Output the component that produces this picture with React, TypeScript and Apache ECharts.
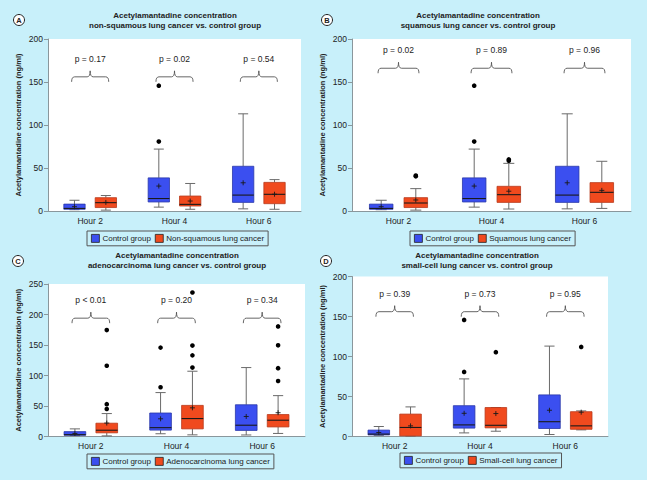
import { useEffect, useRef } from 'react';
import * as echarts from 'echarts';

// ---------- DATA ----------
const HOURS = ['Hour 2', 'Hour 4', 'Hour 6'];
const Y_NAME = 'Acetylamantadine concentration (ng/ml)';
const CONTROL_NAME = 'Control group';

// each row: [low whisker, Q1, median, Q3, high whisker, mean]
const CONTROL = [
  [1.5, 2, 3, 8, 12.5, 5],
  [4.5, 10.5, 14.5, 38.5, 72, 29],
  [2.5, 10, 18.5, 52, 113, 32.8],
];
const CONTROL_OUT = [[], [80.7, 145.7], []];

const NONSQ = [
  [1, 4, 9.7, 15.5, 18, 10],
  [2, 5.8, 7.7, 17.4, 32, 11.6],
  [2, 8.5, 19.4, 33.3, 36.5, 19.5],
];
const NONSQ_OUT = [[], [], []];

const SQ = [
  [1, 4, 9.3, 15.5, 26, 12.8],
  [2.3, 10, 19, 28.7, 55.4, 23],
  [3, 10, 21.7, 33, 57.8, 24],
];
const SQ_OUT = [[40.3, 41.3], [58.5, 60], []];

const ADENO = [
  [1, 6, 10.3, 21.8, 37.6, 22],
  [2.7, 12.5, 29.4, 51, 107, 47],
  [5, 15.7, 26.7, 36, 67, 39],
];
const ADENO_OUT = [[45, 53, 116, 174.5], [113, 133, 149, 236], [91, 112, 149.5, 180.5]];

const SMALL = [
  [0.5, 0.8, 11.3, 28, 37, 13.3],
  [6.6, 10.8, 14, 36.2, 36.2, 28.7],
  [8.3, 9, 13.3, 31, 32, 30.4],
];
const SMALL_OUT = [[], [105.4], [112]];

const P_A = ['p = 0.17', 'p = 0.02', 'p = 0.54'];
const P_B = ['p = 0.02', 'p = 0.89', 'p = 0.96'];
const P_C = ['p < 0.01', 'p = 0.20', 'p = 0.34'];
const P_D = ['p = 0.39', 'p = 0.73', 'p = 0.95'];

const BRACKET_Y = [156, 166, 194, 156];
const Y_MAX = [200, 200, 250, 200];
const LETTERS = ['A', 'B', 'C', 'D'];
const SUBTITLES = [
  'non-squamous lung cancer vs. control group',
  'squamous lung cancer vs. control group',
  'adenocarcinoma lung cancer vs. control group',
  'small-cell lung cancer vs. control group',
];
const CANCER_NAMES = [
  'Non-squamous lung cancer',
  'Squamous lung cancer',
  'Adenocarcinoma lung cancer',
  'Small-cell lung cancer',
];
const CANCER_DATA = [NONSQ, SQ, ADENO, SMALL];
const CANCER_OUT = [NONSQ_OUT, SQ_OUT, ADENO_OUT, SMALL_OUT];
const P_VALUES = [P_A, P_B, P_C, P_D];

// ---------- LAYOUT / STYLE ----------
const GRIDS = [
  { left: 48, top: 39, width: 253, height: 172 },
  { left: 352, top: 39, width: 279, height: 172 },
  { left: 48, top: 284, width: 257, height: 152.5 },
  { left: 352, top: 276.5, width: 256, height: 160 },
];
const TITLE_POS = [
  { x: 175, y: 10 },
  { x: 478, y: 10 },
  { x: 177, y: 250 },
  { x: 477, y: 250 },
];
const LEGEND_POS = [
  { x: 87, y: 231 },
  { x: 410, y: 231 },
  { x: 87, y: 454 },
  { x: 400, y: 453 },
];
const LETTER_POS = [
  { x: 19, y: 20 },
  { x: 327, y: 20 },
  { x: 18, y: 261 },
  { x: 326, y: 261 },
];

const FONT = '"Liberation Sans", Arial, sans-serif';
const BG = '#c8f0fa';
const BLUE = '#3b4ff0';
const BLUE_EDGE = '#2a37a8';
const RED = '#f04a1e';
const RED_EDGE = '#b8391a';
const AXIS = '#8a979c';
const TEXT = '#222';

function boxRenderer(side: number, fill: string, edge: string) {
  return (_params: any, api: any) => {
    const i = api.value(0);
    const band = api.size([1, 0])[0];
    const cx = api.coord([i, 0])[0] + side * band * 0.186;
    const w = band * 0.253;
    const yv = (k: number) => api.coord([i, api.value(k)])[1];
    const yLow = yv(1), yQ1 = yv(2), yMed = yv(3), yQ3 = yv(4), yHigh = yv(5), yMean = yv(6);
    const cap = w * 0.47;
    const ls = { stroke: '#6a6a6a', lineWidth: 1 };
    const m = 2.5;
    return {
      type: 'group',
      children: [
        { type: 'line', shape: { x1: cx, y1: yHigh, x2: cx, y2: yQ3 }, style: ls },
        { type: 'line', shape: { x1: cx, y1: yQ1, x2: cx, y2: yLow }, style: ls },
        { type: 'line', shape: { x1: cx - cap / 2, y1: yHigh, x2: cx + cap / 2, y2: yHigh }, style: ls },
        { type: 'line', shape: { x1: cx - cap / 2, y1: yLow, x2: cx + cap / 2, y2: yLow }, style: ls },
        {
          type: 'rect',
          shape: { x: cx - w / 2, y: yQ3, width: w, height: Math.max(yQ1 - yQ3, 0.5) },
          style: { fill, stroke: edge, lineWidth: 0.8 },
        },
        { type: 'line', shape: { x1: cx - w / 2, y1: yMed, x2: cx + w / 2, y2: yMed }, style: { stroke: '#1a1a1a', lineWidth: 1.1 } },
        { type: 'line', shape: { x1: cx - m, y1: yMean, x2: cx + m, y2: yMean }, style: { stroke: '#1a1a1a', lineWidth: 0.9 } },
        { type: 'line', shape: { x1: cx, y1: yMean - m, x2: cx, y2: yMean + m }, style: { stroke: '#1a1a1a', lineWidth: 0.9 } },
      ],
    };
  };
}

function outlierRenderer(side: number) {
  return (_params: any, api: any) => {
    const i = api.value(0);
    const band = api.size([1, 0])[0];
    const p = api.coord([i, api.value(1)]);
    return {
      type: 'circle',
      shape: { cx: p[0] + side * band * 0.186, cy: p[1], r: 2.3 },
      style: { fill: '#000' },
    };
  };
}

function bracketRenderer(labels: string[]) {
  return (params: any, api: any) => {
    const i = api.value(0);
    const band = api.size([1, 0])[0];
    const p = api.coord([i, api.value(1)]);
    const bx = p[0];
    const yh = p[1];
    const half = band * 0.22;
    const r = 3;
    const d =
      `M${bx - half} ${yh + 5} Q${bx - half} ${yh} ${bx - half + r} ${yh} ` +
      `L${bx - r} ${yh} Q${bx} ${yh} ${bx} ${yh - 6} ` +
      `Q${bx} ${yh} ${bx + r} ${yh} L${bx + half - r} ${yh} ` +
      `Q${bx + half} ${yh} ${bx + half} ${yh + 5}`;
    return {
      type: 'group',
      children: [
        { type: 'path', shape: { pathData: d }, style: { fill: 'none', stroke: '#555', lineWidth: 0.9 } },
        {
          type: 'text',
          style: {
            text: labels[params.dataIndex],
            x: bx,
            y: yh - 18,
            align: 'center',
            verticalAlign: 'middle',
            fontSize: 8.5,
            fontFamily: FONT,
            fill: TEXT,
          },
        },
      ],
    };
  };
}

function buildOption() {
  const grid: any[] = [];
  const xAxis: any[] = [];
  const yAxis: any[] = [];
  const series: any[] = [];
  const title: any[] = [];
  const legend: any[] = [];
  const graphic: any[] = [];

  for (let k = 0; k < 4; k++) {
    const g = GRIDS[k];
    grid.push({ ...g, show: true, backgroundColor: '#fff', borderWidth: 0 });
    xAxis.push({
      gridIndex: k,
      type: 'category',
      data: HOURS,
      axisLine: { lineStyle: { color: AXIS, width: 1 } },
      axisTick: { alignWithLabel: true, length: 3, lineStyle: { color: AXIS } },
      axisLabel: { fontSize: 8.5, color: TEXT, fontFamily: FONT, margin: 5 },
      splitLine: { show: false },
    });
    yAxis.push({
      gridIndex: k,
      type: 'value',
      min: 0,
      max: Y_MAX[k],
      interval: 50,
      name: Y_NAME,
      nameLocation: 'middle',
      nameGap: 26,
      nameTextStyle: { fontSize: 7.5, fontWeight: 'bold', color: TEXT, fontFamily: FONT },
      axisLine: { show: true, lineStyle: { color: AXIS, width: 1 } },
      axisTick: { show: true, length: 4, lineStyle: { color: AXIS } },
      axisLabel: { fontSize: 8.5, color: TEXT, fontFamily: FONT, margin: 5 },
      splitLine: { show: false },
    });

    const ctrlBox = CONTROL.map((r, i) => [i, ...r]);
    const canBox = CANCER_DATA[k].map((r, i) => [i, ...r]);
    series.push({
      type: 'custom',
      name: CONTROL_NAME,
      xAxisIndex: k,
      yAxisIndex: k,
      itemStyle: { color: BLUE, borderColor: '#222', borderWidth: 0.8 },
      encode: { x: 0, y: 5 },
      renderItem: boxRenderer(-1, BLUE, BLUE_EDGE),
      data: ctrlBox,
    });
    series.push({
      type: 'custom',
      name: CANCER_NAMES[k],
      xAxisIndex: k,
      yAxisIndex: k,
      itemStyle: { color: RED, borderColor: '#222', borderWidth: 0.8 },
      encode: { x: 0, y: 5 },
      renderItem: boxRenderer(1, RED, RED_EDGE),
      data: canBox,
    });
    const ctrlOut: number[][] = [];
    CONTROL_OUT.forEach((arr, i) => arr.forEach((v) => ctrlOut.push([i, v])));
    const canOut: number[][] = [];
    CANCER_OUT[k].forEach((arr, i) => arr.forEach((v) => canOut.push([i, v])));
    series.push({
      type: 'custom',
      name: 'ctrl-outliers-' + k,
      xAxisIndex: k,
      yAxisIndex: k,
      encode: { x: 0, y: 1 },
      renderItem: outlierRenderer(-1),
      data: ctrlOut,
    });
    series.push({
      type: 'custom',
      name: 'cancer-outliers-' + k,
      xAxisIndex: k,
      yAxisIndex: k,
      encode: { x: 0, y: 1 },
      renderItem: outlierRenderer(1),
      data: canOut,
    });
    series.push({
      type: 'custom',
      name: 'brackets-' + k,
      xAxisIndex: k,
      yAxisIndex: k,
      encode: { x: 0, y: 1 },
      renderItem: bracketRenderer(P_VALUES[k]),
      data: HOURS.map((_h, i) => [i, BRACKET_Y[k]]),
    });

    title.push({
      text: 'Acetylamantadine concentration\n' + SUBTITLES[k],
      left: TITLE_POS[k].x,
      top: TITLE_POS[k].y,
      textAlign: 'center',
      padding: 0,
      textStyle: { fontSize: 8, fontWeight: 'bold', color: TEXT, fontFamily: FONT, lineHeight: 10.5 },
    });
    legend.push({
      left: LEGEND_POS[k].x,
      top: LEGEND_POS[k].y,
      orient: 'horizontal',
      data: [CONTROL_NAME, CANCER_NAMES[k]],
      icon: 'rect',
      itemWidth: 8,
      itemHeight: 8,
      itemGap: 4,
      padding: [3, 4, 3, 4],
      borderColor: '#555',
      borderWidth: 1,
      borderRadius: 0,
      selectedMode: false,
      itemStyle: { borderColor: '#222', borderWidth: 0.8 },
      textStyle: { fontSize: 8, color: TEXT, fontFamily: FONT, padding: [0, 0, 0, -2] },
    });
    graphic.push({
      type: 'group',
      x: LETTER_POS[k].x,
      y: LETTER_POS[k].y,
      children: [
        { type: 'circle', shape: { cx: 0, cy: 0, r: 5.5 }, style: { fill: '#fff', stroke: '#222', lineWidth: 1 } },
        {
          type: 'text',
          style: {
            text: LETTERS[k],
            x: 0,
            y: 0.5,
            align: 'center',
            verticalAlign: 'middle',
            fontSize: 7.5,
            fontWeight: 'bold',
            fontFamily: FONT,
            fill: '#222',
          },
        },
      ],
    });
  }

  return {
    animation: false,
    backgroundColor: BG,
    textStyle: { fontFamily: FONT },
    title,
    legend,
    grid,
    xAxis,
    yAxis,
    series,
    graphic,
  };
}

export default function App() {
  const ref = useRef<HTMLDivElement>(null);
  useEffect(() => {
    if (!ref.current) return;
    const chart = echarts.init(ref.current, undefined, { renderer: 'svg' });
    chart.setOption(buildOption() as any);
    return () => chart.dispose();
  }, []);
  return (
    <div
      ref={ref}
      style={{ position: 'fixed', left: 0, top: 0, width: 647, height: 480 }}
    />
  );
}
